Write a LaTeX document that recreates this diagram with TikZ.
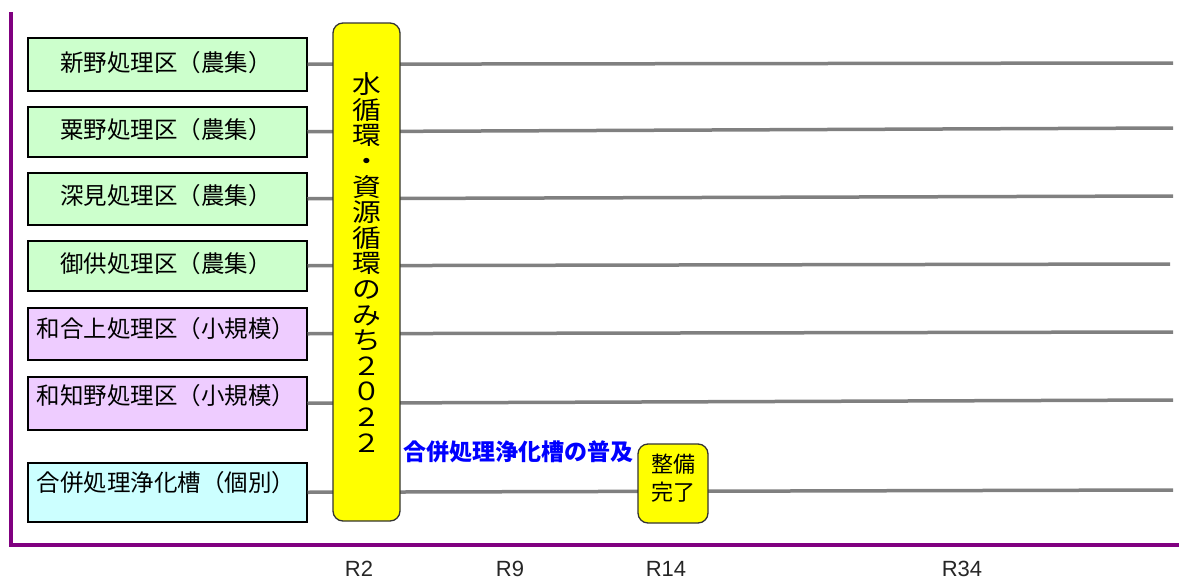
\documentclass[tikz,border=0pt]{standalone}
\usepackage{fontspec}
\setmainfont{Liberation Sans}
\newfontfamily\jp{Noto Sans CJK JP}
\definecolor{boxgreen}{RGB}{204,255,204}
\definecolor{boxpurple}{RGB}{238,204,255}
\definecolor{boxcyan}{RGB}{204,255,255}
\definecolor{axispurple}{RGB}{128,0,128}
\definecolor{linegray}{RGB}{128,128,128}
\definecolor{markyellow}{RGB}{255,255,0}
\begin{document}
\begin{tikzpicture}[x=1pt,y=-1pt,
  catbox/.style={draw=black, line width=1.5pt, minimum width=279pt, anchor=north west, inner sep=0pt},
  boxtext/.style={font=\jp\fontsize{23.5}{26}\selectfont, inner sep=0pt},
  conn/.style={draw=linegray, line width=3.5pt},
  axis/.style={draw=axispurple, line width=4pt},
  yearlabel/.style={font=\fontsize{22}{24}\selectfont, text=black!85, inner sep=0pt},
  yellowbox/.style={draw=black!80, line width=1.3pt, fill=markyellow, rounded corners=10pt, inner sep=0pt}
]
\useasboundingbox (0,0) rectangle (1179,581);
% axes
\draw[axis] (11,12) -- (11,545) -- (1179,545);
% category boxes
\node[catbox, fill=boxgreen,  minimum height=53pt] (b1) at (27,37) {};
\node[catbox, fill=boxgreen,  minimum height=50pt] (b2) at (27,106) {};
\node[catbox, fill=boxgreen,  minimum height=52pt] (b3) at (27,172) {};
\node[catbox, fill=boxgreen,  minimum height=50pt] (b4) at (27,240) {};
\node[catbox, fill=boxpurple, minimum height=52pt] (b5) at (27,307) {};
\node[catbox, fill=boxpurple, minimum height=53pt] (b6) at (27,376) {};
\node[catbox, fill=boxcyan,   minimum height=59pt] (b7) at (27,462) {};
\node[boxtext] (t1) at (166,63)  {新野処理区（農集）};
\node[boxtext] (t2) at (166,130) {粟野処理区（農集）};
\node[boxtext] (t3) at (166,196) {深見処理区（農集）};
\node[boxtext] (t4) at (166,264) {御供処理区（農集）};
\node[boxtext] (t5) at (166,329) {和合上処理区（小規模）};
\node[boxtext] (t6) at (166,396) {和知野処理区（小規模）};
\node[boxtext] (t7) at (166,483) {合併処理浄化槽（個別）};
% line ends
\coordinate (e1) at (1173,63);
\coordinate (e2) at (1173,128);
\coordinate (e3) at (1173,196);
\coordinate (e4) at (1170,264);
\coordinate (e5) at (1173,332);
\coordinate (e6) at (1173,400);
\coordinate (e7) at (1173,490);
% connectors
\draw[conn] (b1.east) -- (e1);
\draw[conn] (b2.east) -- (e2);
\draw[conn] (b3.east) -- (e3);
\draw[conn] (b4.east) -- (e4);
\draw[conn] (b5.east) -- (e5);
\draw[conn] (b6.east) -- (e6);
\draw[conn] (b7.east) -- (e7);
% main vertical box
\node[yellowbox, minimum width=67pt, minimum height=498pt] (main) at (366.5,272) {};
\node[font=\jp\fontsize{25}{25.6}\selectfont, align=center, inner sep=0pt, xscale=1.15] (mainlabel) at (367,262.5)
  {水\\循\\環\\・\\資\\源\\循\\環\\の\\み\\ち\\２\\０\\２\\２};
% completion box
\node[yellowbox, minimum width=70pt, minimum height=79pt] (done) at (673,483.5) {};
\node[font=\jp\fontsize{22}{28}\selectfont, align=center, inner sep=0pt] (donelabel) at (673,478.5) {整備\\完了};
% blue label
\node[font=\jp\bfseries\fontsize{23}{24}\selectfont, text=blue, inner sep=0pt] (spread) at (518,452) {合併処理浄化槽の普及};
% year labels
\node[yearlabel] (r2)  at (359,569) {R2};
\node[yearlabel] (r9)  at (510,569) {R9};
\node[yearlabel] (r14) at (666,569) {R14};
\node[yearlabel] (r34) at (962,569) {R34};
\end{tikzpicture}
\end{document}
